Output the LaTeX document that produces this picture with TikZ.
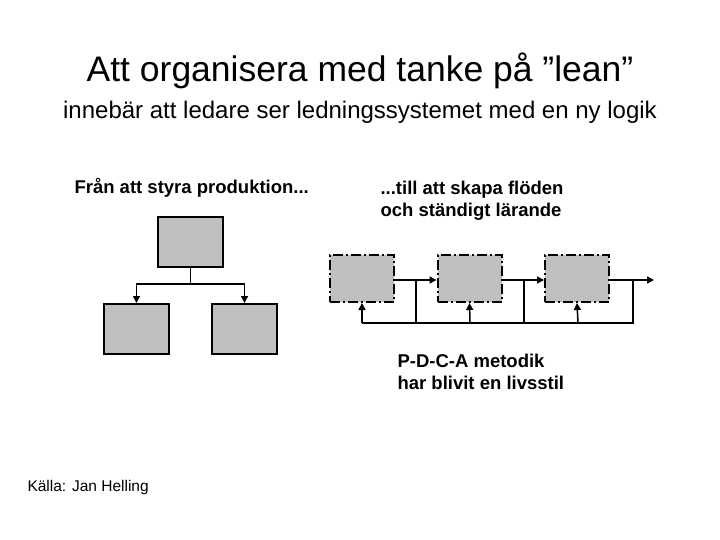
\documentclass[tikz,border=0pt]{standalone}
\usepackage{fontspec}
\setmainfont{Liberation Sans}
\usetikzlibrary{arrows.meta}
\begin{document}
\begin{tikzpicture}[x=1pt,y=-1pt,
  solidbox/.style={draw,line width=2pt,fill=black!25,minimum width=65pt,minimum height=50pt,inner sep=0},
  flowbox/.style={draw,line width=2pt,dash pattern=on 10pt off 3pt on 2pt off 3pt,fill=black!25,minimum width=64pt,minimum height=47pt,inner sep=0},
  conn/.style={line width=1.5pt,-{Triangle[length=7pt,width=7pt]}},
  plain/.style={line width=1.5pt}]
\useasboundingbox (0,0) rectangle (720,540);
\node[font=\fontsize{35.5}{40}\selectfont] (title) at (360,71) {Att organisera med tanke på ”lean”};
\node[font=\fontsize{24}{28}\selectfont] (sub) at (360,112) {innebär att ledare ser ledningssystemet med en ny logik};
\node[font=\fontsize{18.5}{22}\selectfont\bfseries,anchor=west] (l1) at (71,188) {Från att styra produktion...};
\node[font=\fontsize{18.5}{22}\selectfont\bfseries,align=left,anchor=west] (l2) at (377,201) {...till att skapa flöden\\och ständigt lärande};
\node[font=\fontsize{18.5}{22}\selectfont\bfseries,align=left,anchor=west] (l3) at (394,372) {P-D-C-A metodik\\har blivit en livsstil};
\node[font=\fontsize{15.5}{18}\selectfont,anchor=west] (src) at (24,487) {Källa: Jan Helling};
% tree
\node[solidbox] (t) at (190.5,242) {};
\node[solidbox] (a) at (136.5,329) {};
\node[solidbox] (b) at (244.5,329) {};
\coordinate (j) at (190.5,284);
\draw[plain] (t.south) -- (j);
\draw[conn] (j) -| (a.north);
\draw[conn] (j) -| (b.north);
% flow
\node[flowbox] (f1) at (362,278.5) {};
\node[flowbox] (f2) at (469.5,278.5) {};
\node[flowbox] (f3) at (577,278.5) {};
\coordinate (e) at (654,280);
\draw[conn] (f1.east|-0,280) -- (f2.west|-0,280);
\draw[conn] (f2.east|-0,280) -- (f3.west|-0,280);
\draw[conn] (f3.east|-0,280) -- (e);
\coordinate (b1) at (362,323);
\coordinate (b2) at (470,323);
\coordinate (b3) at (578,323);
\coordinate (r3) at (633,323);
\draw[plain] (b1) -- (r3) -- (633,280);
\draw[plain] (416,280) -- (416,323);
\draw[plain] (524,280) -- (524,323);
\draw[conn] (b1) -- (f1.south);
\draw[conn] (b2) -- (f2.south);
\draw[conn] (b3) -- (f3.south);
\end{tikzpicture}
\end{document}
